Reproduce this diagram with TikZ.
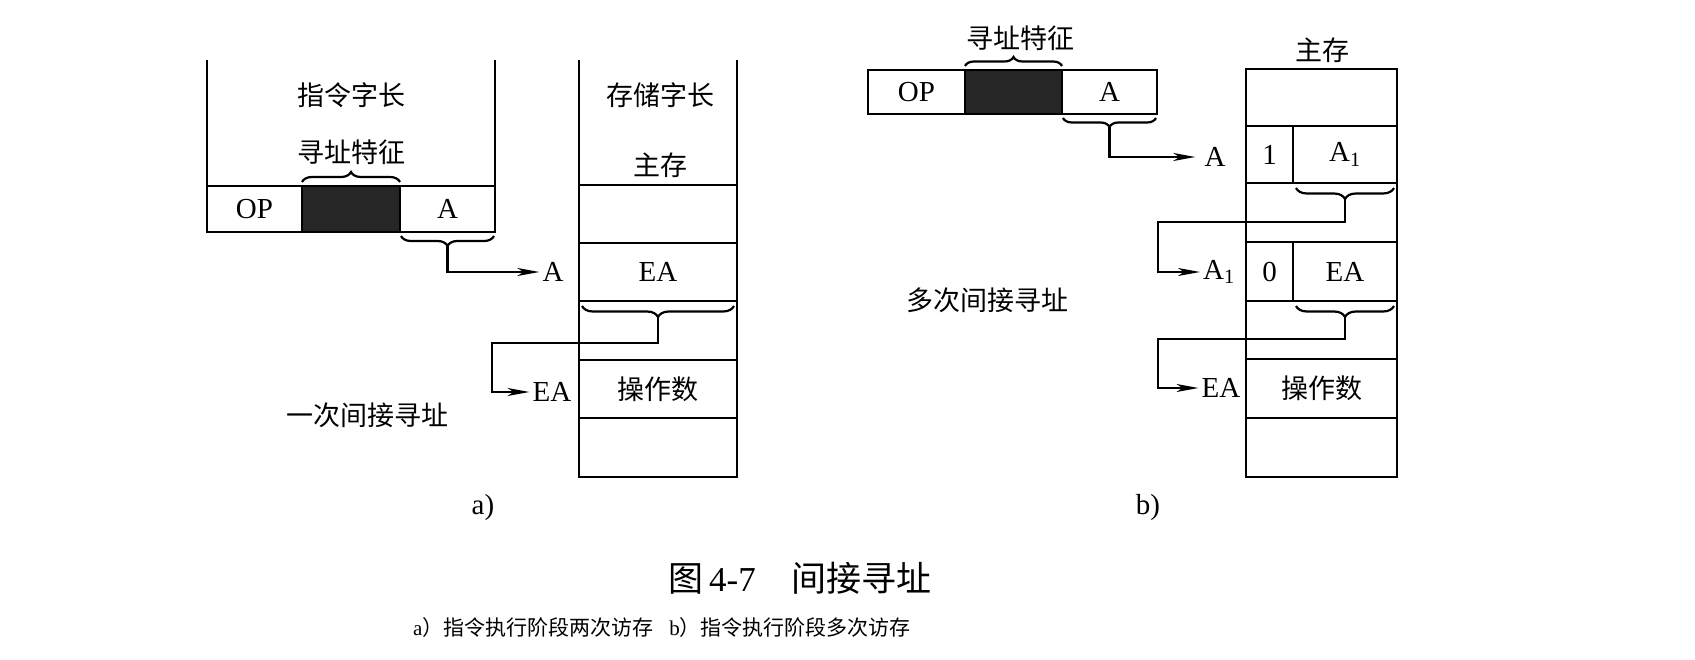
\documentclass[tikz,border=0pt]{standalone}
\usepackage{fontspec}
\setmainfont{Liberation Serif}
\newfontfamily\cjk{Noto Sans CJK SC}
\usetikzlibrary{arrows.meta,decorations.pathreplacing,calc}
\begin{document}
\begin{tikzpicture}[x=1pt,y=-1pt,
  every node/.style={font=\fontsize{29}{32}\selectfont, inner sep=0pt},
  cjkf/.style={font=\fontsize{27}{30}\selectfont\cjk},
  lw/.style={line width=2.4pt},
  cell/.style={draw, line width=2.4pt, anchor=north west, inner sep=0pt, outer sep=0pt},
  darkcell/.style={cell, fill=black!85},
  bracedec/.style={draw, line width=2.2pt, decorate, decoration={brace, amplitude=#1}},
  arr/.style={draw, line width=2.2pt, -{Stealth[length=22pt,width=8pt,inset=6pt]}},
  lab/.style={inner sep=3pt},
]
\fill[white] (0,0) rectangle (1695,660);
\useasboundingbox (0,0) rectangle (1695,660);

% ---------------- (a) ----------------
\node[cell, minimum width=95pt, minimum height=46pt] (opA) at (207,186) {OP};
\node[darkcell, minimum width=98pt, minimum height=46pt] (ftA) at (302,186) {};
\node[cell, minimum width=95pt, minimum height=46pt] (adA) at (400,186) {A};
\draw[lw] (opA.north west) -- ++(0,-126);
\draw[lw] (adA.north east) -- ++(0,-126);
\node[cjkf] (lenA) at (351,95) {指令字长};
\node[cjkf] (featA) at (351,152) {寻址特征};
\draw[bracedec=10pt] ([shift={(0,-4)}]ftA.north west) -- ([shift={(0,-4)}]ftA.north east);
\draw[bracedec=10pt] ([shift={(-1,4)}]adA.south east) -- ([shift={(1,4)}]adA.south west);
\coordinate (tA) at ($(adA.south)+(0,14)$);
\node[lab] (la1) at (553,272) {A};
\draw[arr] (tA) |- (la1.west);

\node[cell, minimum width=158pt, minimum height=58pt] (mA1) at (579,185) {};
\node[cell, minimum width=158pt, minimum height=58pt] (mA2) at (579,243) {EA};
\node[cell, minimum width=158pt, minimum height=59pt] (mA3) at (579,301) {};
\node[cell, minimum width=158pt, minimum height=58pt, cjkf] (mA4) at (579,360) {操作数};
\node[cell, minimum width=158pt, minimum height=59pt] (mA5) at (579,418) {};
\draw[lw] (mA1.north west) -- ++(0,-125);
\draw[lw] (mA1.north east) -- ++(0,-125);
\node[cjkf] (wlA) at (660,95) {存储字长};
\node[cjkf] (msA) at (660,165) {主存};
\draw[bracedec=11pt] ([shift={(-3,5)}]mA2.south east) -- ([shift={(3,5)}]mA2.south west);
\coordinate (tEA) at ($(mA2.south)+(0,16)$);
\coordinate (bendA) at (492,343);
\node[lab] (lea1) at (552,392) {EA};
\draw[arr] (tEA) |- (bendA) |- (lea1.west);
\node[cjkf] (onceA) at (367,415) {一次间接寻址};
\node (subA) at (483,508) {a)};

% ---------------- (b) ----------------
\node[cell, minimum width=97pt, minimum height=44pt] (opB) at (868,70) {OP};
\node[darkcell, minimum width=97pt, minimum height=44pt] (ftB) at (965,70) {};
\node[cell, minimum width=95pt, minimum height=44pt] (adB) at (1062,70) {A};
\node[cjkf] (featB) at (1020,38) {寻址特征};
\draw[bracedec=9pt] ([shift={(0,-4)}]ftB.north west) -- ([shift={(0,-4)}]ftB.north east);
\draw[bracedec=9pt] ([shift={(-1,4)}]adB.south east) -- ([shift={(1,4)}]adB.south west);
\coordinate (tB) at ($(adB.south)+(0,13)$);
\node[lab, inner sep=9pt] (la2) at (1215,157) {A};
\draw[arr] (tB) |- (la2.west);

\node[cell, minimum width=151pt, minimum height=57pt] (mB1) at (1246,69) {};
\node[cell, minimum width=47pt, minimum height=57pt] (mB2l) at (1246,126) {1};
\node[cell, minimum width=104pt, minimum height=57pt] (mB2r) at (1293,126) {A\textsubscript{1}};
\node[cell, minimum width=151pt, minimum height=59pt] (mB3) at (1246,183) {};
\node[cell, minimum width=47pt, minimum height=59pt] (mB4l) at (1246,242) {0};
\node[cell, minimum width=104pt, minimum height=59pt] (mB4r) at (1293,242) {EA};
\node[cell, minimum width=151pt, minimum height=58pt] (mB5) at (1246,301) {};
\node[cell, minimum width=151pt, minimum height=59pt, cjkf] (mB6) at (1246,359) {操作数};
\node[cell, minimum width=151pt, minimum height=59pt] (mB7) at (1246,418) {};
\node[cjkf] (msB) at (1322,50) {主存};

\draw[bracedec=11pt] ([shift={(-3,5)}]mB2r.south east) -- ([shift={(3,5)}]mB2r.south west);
\coordinate (tA1) at ($(mB2r.south)+(0,16)$);
\coordinate (bendB1) at (1158,222);
\node[lab] (la3) at (1219,272) {A\textsubscript{1}};
\draw[arr] (tA1) |- (bendB1) |- (la3.west);

\draw[bracedec=11pt] ([shift={(-3,5)}]mB4r.south east) -- ([shift={(3,5)}]mB4r.south west);
\coordinate (tEA2) at ($(mB4r.south)+(0,16)$);
\coordinate (bendB2) at (1158,339);
\node[lab] (lea2) at (1221,388) {EA};
\draw[arr] (tEA2) |- (bendB2) |- (lea2.west);

\node[cjkf] (manyB) at (987,300) {多次间接寻址};
\node (subB) at (1148,508) {b)};

% ---------------- captions ----------------
\node[font=\fontsize{35}{40}\selectfont] (cap) at (800,578) {{\cjk 图}\,4-7\hspace{36pt}{\cjk 间接寻址}};
\node[font=\fontsize{21}{24}\selectfont] (subcap) at (662,628) {a{\cjk ）指令执行阶段两次访存}\hspace{16pt}b{\cjk ）指令执行阶段多次访存}};
\end{tikzpicture}
\end{document}
